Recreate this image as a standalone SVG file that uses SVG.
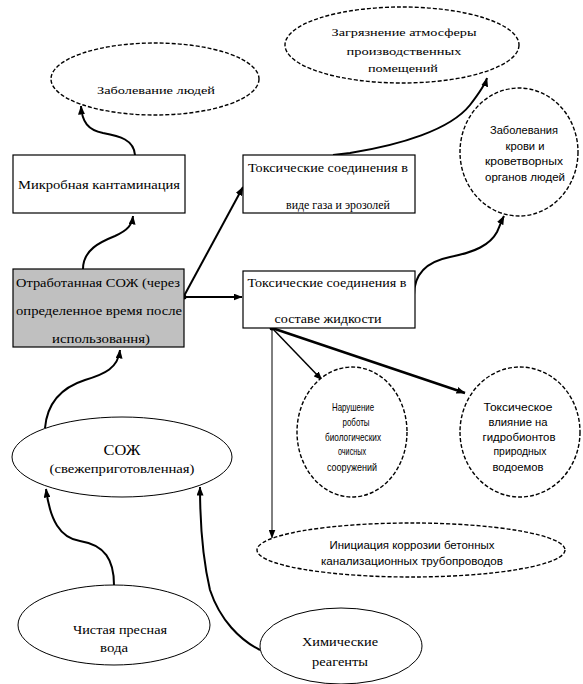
<svg xmlns="http://www.w3.org/2000/svg" width="583" height="684" viewBox="0 0 583 684">
<style>
.box{fill:#fff;stroke:#000;stroke-width:1.2}
.gray{fill:#c0c0c0;stroke:#000;stroke-width:1.2}
.dash{fill:#fff;stroke:#000;stroke-width:1.4;stroke-dasharray:4 2}
.sol{fill:#fff;stroke:#000;stroke-width:1}
.con{fill:none;stroke:#000;stroke-width:2}
.ser{font-family:"Liberation Serif","Times New Roman",serif;fill:#000;text-anchor:middle}
.san{font-family:"Liberation Sans",Arial,sans-serif;fill:#000;text-anchor:middle}
</style>
<defs>
<marker id="ah" markerUnits="userSpaceOnUse" markerWidth="9" markerHeight="7" refX="8.5" refY="3.5" orient="auto">
<path d="M0,0 L9,3.5 L0,7 z" fill="#000"/>
</marker>
</defs>
<rect width="583" height="684" fill="#fff"/>

<g id="connectors">
<path class="con" d="M135,155 C134,140 120,136 103,133 C88,130 82,122 81,106" marker-end="url(#ah)"/>
<path class="con" d="M83,269 C83,250 100,242 115,236 C128,230 132,225 133,216" marker-end="url(#ah)"/>
<path class="con" d="M184,297 L242,297" marker-end="url(#ah)"/>
<path class="con" d="M184,296 L243,187" marker-end="url(#ah)"/>
<circle cx="184" cy="297" r="2.5" fill="#000"/>
<path class="con" d="M333,155 L350,153 C400,145 450,130 470,105 C480,92 485,85 487,78" marker-end="url(#ah)"/>
<path class="con" d="M414,295 C414,275 425,262 450,257 C475,252 490,245 497,232 C500,225 502,220 504,216" marker-end="url(#ah)"/>
<circle cx="272" cy="328" r="2.5" fill="#000"/>
<path class="con" style="stroke-width:1.5" d="M272,328 L322,380" marker-end="url(#ah)"/>
<path class="con" style="stroke-width:2.5" d="M272,328 L465,393" marker-end="url(#ah)"/>
<path class="con" style="stroke-width:1" d="M272,328 L272,538" marker-end="url(#ah)"/>
<path class="con" d="M45,428 C47,405 60,388 85,380 C105,374 118,368 120,350" marker-end="url(#ah)"/>
<path class="con" d="M114,585 C114,560 105,545 80,541 C60,538 50,520 46,489" marker-end="url(#ah)"/>
<path class="con" d="M260,650 C240,640 220,620 210,590 C203,560 200,530 200,487" marker-end="url(#ah)"/>
</g>

<g id="n-zabolevanie">
<ellipse class="dash" cx="155" cy="79" rx="104" ry="36"/>
<text class="ser" x="156" y="94" font-size="11" textLength="118" lengthAdjust="spacingAndGlyphs">Заболевание людей</text>
</g>

<g id="n-zagryaznenie">
<ellipse class="dash" cx="402" cy="45" rx="117" ry="38"/>
<text class="ser" x="404" y="36" font-size="11" textLength="145" lengthAdjust="spacingAndGlyphs">Загрязнение атмосферы</text>
<text class="ser" x="404" y="55" font-size="11" textLength="115" lengthAdjust="spacingAndGlyphs">производственных</text>
<text class="ser" x="403" y="72" font-size="11" textLength="70" lengthAdjust="spacingAndGlyphs">помещений</text>
</g>

<g id="n-mikrob">
<rect class="box" x="13" y="155" width="172" height="58"/>
<text class="ser" x="99" y="189" font-size="13" textLength="162" lengthAdjust="spacingAndGlyphs">Микробная кантаминация</text>
</g>

<g id="n-toks-gaz">
<rect class="box" x="243" y="155" width="172" height="58"/>
<text class="ser" x="328" y="172" font-size="13" textLength="160" lengthAdjust="spacingAndGlyphs">Токсические соединения в</text>
<text class="ser" x="338" y="209" font-size="13" textLength="104" lengthAdjust="spacingAndGlyphs">виде газа и эрозолей</text>
</g>

<g id="n-krovi">
<ellipse class="dash" cx="519" cy="152" rx="59" ry="64"/>
<text class="san" x="524" y="134" font-size="11" textLength="68" lengthAdjust="spacingAndGlyphs">Заболевания</text>
<text class="san" x="525" y="150" font-size="11" textLength="39" lengthAdjust="spacingAndGlyphs">крови и</text>
<text class="san" x="524" y="165" font-size="11" textLength="78" lengthAdjust="spacingAndGlyphs">кроветворных</text>
<text class="san" x="525" y="181" font-size="11" textLength="80" lengthAdjust="spacingAndGlyphs">органов людей</text>
</g>

<g id="n-otrabotannaya">
<rect class="gray" x="13" y="269" width="171" height="78"/>
<text class="ser" x="98" y="287" font-size="13" textLength="164" lengthAdjust="spacingAndGlyphs">Отработанная СОЖ (через</text>
<text class="ser" x="99" y="315" font-size="13" textLength="166" lengthAdjust="spacingAndGlyphs">определенное время после</text>
<text class="ser" x="101" y="343" font-size="13" textLength="98" lengthAdjust="spacingAndGlyphs">использовання)</text>
</g>

<g id="n-toks-zhid">
<rect class="box" x="243" y="271" width="172" height="57"/>
<text class="ser" x="327" y="287" font-size="13" textLength="159" lengthAdjust="spacingAndGlyphs">Токсические соединения в</text>
<text class="ser" x="328" y="323" font-size="13" textLength="107" lengthAdjust="spacingAndGlyphs">составе жидкости</text>
</g>

<g id="n-narushenie">
<ellipse class="dash" cx="352" cy="432" rx="55" ry="65"/>
<text class="san" x="353" y="411" font-size="11" textLength="42" lengthAdjust="spacingAndGlyphs">Нарушение</text>
<text class="san" x="356" y="426" font-size="11" textLength="27" lengthAdjust="spacingAndGlyphs">роботы</text>
<text class="san" x="353" y="441" font-size="11" textLength="56" lengthAdjust="spacingAndGlyphs">биологических</text>
<text class="san" x="352" y="455" font-size="11" textLength="28" lengthAdjust="spacingAndGlyphs">очисных</text>
<text class="san" x="352" y="471" font-size="11" textLength="50" lengthAdjust="spacingAndGlyphs">сооружений</text>
</g>

<g id="n-toksicheskoe">
<ellipse class="dash" cx="520" cy="432" rx="60" ry="65"/>
<text class="san" x="518" y="411" font-size="11" textLength="69" lengthAdjust="spacingAndGlyphs">Токсическое</text>
<text class="san" x="518" y="426" font-size="11" textLength="59" lengthAdjust="spacingAndGlyphs">влияние на</text>
<text class="san" x="519" y="441" font-size="11" textLength="73" lengthAdjust="spacingAndGlyphs">гидробионтов</text>
<text class="san" x="520" y="455" font-size="11" textLength="53" lengthAdjust="spacingAndGlyphs">природных</text>
<text class="san" x="518" y="471" font-size="11" textLength="51" lengthAdjust="spacingAndGlyphs">водоемов</text>
</g>

<g id="n-korroziya">
<ellipse class="dash" cx="411" cy="550" rx="154" ry="27"/>
<text class="san" x="412" y="549" font-size="11" textLength="165" lengthAdjust="spacingAndGlyphs">Инициация коррозии бетонных</text>
<text class="san" x="412" y="565" font-size="11" textLength="182" lengthAdjust="spacingAndGlyphs">канализационных трубопроводов</text>
</g>

<g id="n-sozh">
<ellipse class="sol" cx="122" cy="457" rx="110" ry="40"/>
<text class="ser" x="122" y="455" font-size="14" textLength="37" lengthAdjust="spacingAndGlyphs">СОЖ</text>
<text class="ser" x="122" y="473" font-size="12" textLength="145" lengthAdjust="spacingAndGlyphs">(свежеприготовленная)</text>
</g>

<g id="n-voda">
<ellipse class="sol" cx="114" cy="625" rx="96" ry="40"/>
<text class="ser" x="120" y="634" font-size="12" textLength="94" lengthAdjust="spacingAndGlyphs">Чистая пресная</text>
<text class="ser" x="114" y="652" font-size="12" textLength="28" lengthAdjust="spacingAndGlyphs">вода</text>
</g>

<g id="n-reagenty">
<ellipse class="sol" cx="341" cy="646" rx="81" ry="38"/>
<text class="ser" x="340" y="646" font-size="12" textLength="76" lengthAdjust="spacingAndGlyphs">Химические</text>
<text class="ser" x="340" y="666" font-size="12" textLength="56" lengthAdjust="spacingAndGlyphs">реагенты</text>
</g>
</svg>
